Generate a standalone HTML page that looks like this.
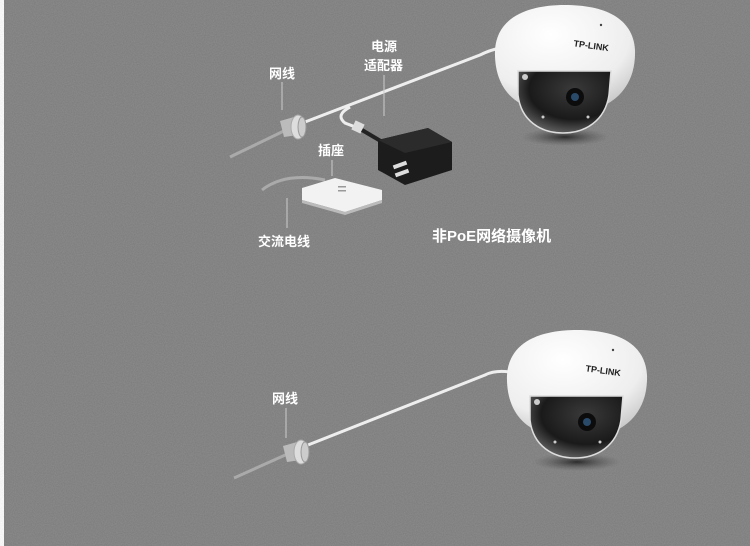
<!DOCTYPE html>
<html><head><meta charset="utf-8"><style>
html,body{margin:0;padding:0;}
body{width:750px;height:546px;overflow:hidden;background:#fff;}
svg{display:block}
text{font-family:"Liberation Sans","Noto Sans CJK SC",sans-serif;fill:#fff;font-weight:bold;}
</style></head><body>
<svg width="750" height="546" viewBox="0 0 750 546">
<defs>
<radialGradient id="body" cx="0.4" cy="0.3" r="0.8"><stop offset="0" stop-color="#ffffff"/><stop offset="0.7" stop-color="#eeeeee"/><stop offset="1" stop-color="#c8c8c8"/></radialGradient>
<radialGradient id="lens" cx="0.6" cy="0.3" r="0.8"><stop offset="0" stop-color="#3a3a3a"/><stop offset="0.6" stop-color="#1a1a1a"/><stop offset="1" stop-color="#777"/></radialGradient>
<radialGradient id="sh" cx="0.5" cy="0.5" r="0.5"><stop offset="0" stop-color="#222" stop-opacity="0.9"/><stop offset="1" stop-color="#555" stop-opacity="0"/></radialGradient>
<filter id="n"><feTurbulence type="fractalNoise" baseFrequency="0.9" numOctaves="1" seed="3"/><feColorMatrix values="0 0 0 0 0.5 0 0 0 0 0.5 0 0 0 0 0.5 0 0 0 0.3 0"/></filter>
<g id="cam">
<ellipse cx="72" cy="132" rx="44" ry="9" fill="url(#sh)"/>
<path d="M2,45 C4,12 35,0 72,0 C110,0 140,12 142,45 C143,75 128,92 112,100 L30,100 C14,92 1,75 2,45Z" fill="url(#body)"/>
<path d="M25,66 L118,66 L116,90 C112,116 92,128 70,128 C48,128 28,116 25,90Z" fill="url(#lens)" stroke="#ddd" stroke-width="1.5"/>
<circle cx="82" cy="92" r="9" fill="#0c0c0c"/><circle cx="82" cy="92" r="4" fill="#2a4a6a"/>
<circle cx="50" cy="112" r="1.5" fill="#ccc"/><circle cx="95" cy="112" r="1.5" fill="#ccc"/>
<text x="80" y="44" font-size="9" style="fill:#222" transform="rotate(8 100 44)">TP-LINK</text>
<circle cx="108" cy="20" r="1.2" fill="#444"/>
<circle cx="32" cy="72" r="3" fill="#ccc"/>
</g>
<g id="rj">
<path d="M-12,-4 L2,-8 L6,10 L-8,12Z" fill="#bbb"/>
<ellipse cx="6" cy="2" rx="7" ry="12" fill="#ddd" stroke="#aaa"/>
<ellipse cx="10" cy="2" rx="4" ry="10" fill="#ccc" stroke="#999"/>
</g>
</defs>
<rect x="4" y="0" width="746" height="546" fill="#7a7a7a"/>
<rect x="4" y="0" width="746" height="546" filter="url(#n)"/>
<path d="M230,157 L290,128" stroke="#aaa" stroke-width="3"/>
<path d="M305,122 L480,55 Q490,50 500,48" stroke="#eee" stroke-width="3" fill="none"/>
<path d="M350,107 Q335,115 345,123 L358,128" stroke="#eee" stroke-width="3" fill="none"/>
<rect x="353" y="122" width="10" height="10" fill="#ddd" transform="rotate(25 358 127)"/>
<path d="M362,130 L384,143" stroke="#222" stroke-width="4"/>
<path d="M378,140 L428,128 L452,142 L452,170 L405,185 L378,170Z" fill="#1c1c1c"/>
<path d="M378,140 L428,128 L452,142 L405,153Z" fill="#2b2b2b"/>
<rect x="393" y="163" width="14" height="4" fill="#ddd" transform="rotate(-20 400 165)"/>
<rect x="395" y="171" width="14" height="4" fill="#ddd" transform="rotate(-20 402 173)"/>
<use href="#rj" x="292" y="125"/>
<path d="M262,190 Q285,172 325,180" stroke="#aaa" stroke-width="3" fill="none"/>
<path d="M302,188 L335,178 L382,190 L382,200 L345,212 L302,200Z" fill="#f2f2f2"/>
<path d="M302,200 L345,212 L382,200 L382,203 L345,215 L302,203Z" fill="#bbb"/>
<rect x="338" y="186" width="8" height="1.5" fill="#999"/><rect x="338" y="190" width="8" height="1.5" fill="#999"/>
<g stroke="#ccc" stroke-width="1">
<line x1="282" y1="82" x2="282" y2="110"/>
<line x1="384" y1="75" x2="384" y2="116"/>
<line x1="332" y1="160" x2="332" y2="176"/>
<line x1="287" y1="198" x2="287" y2="228"/>
</g>
<text x="269" y="78" font-size="13">网线</text>
<text x="371" y="51" font-size="13">电源</text>
<text x="364" y="70" font-size="13">适配器</text>
<text x="318" y="155" font-size="13">插座</text>
<text x="258" y="246" font-size="13">交流电线</text>
<text x="432" y="241" font-size="15">非PoE网络摄像机</text>
<use href="#cam" x="493" y="5"/>
<path d="M234,478 L292,452" stroke="#aaa" stroke-width="3"/>
<path d="M308,445 L485,375 Q495,370 510,372" stroke="#eee" stroke-width="3" fill="none"/>
<use href="#rj" x="295" y="450"/>
<line x1="286" y1="408" x2="286" y2="438" stroke="#ccc"/>
<text x="272" y="403" font-size="13">网线</text>
<use href="#cam" x="505" y="330"/>
</svg>
</body></html>
